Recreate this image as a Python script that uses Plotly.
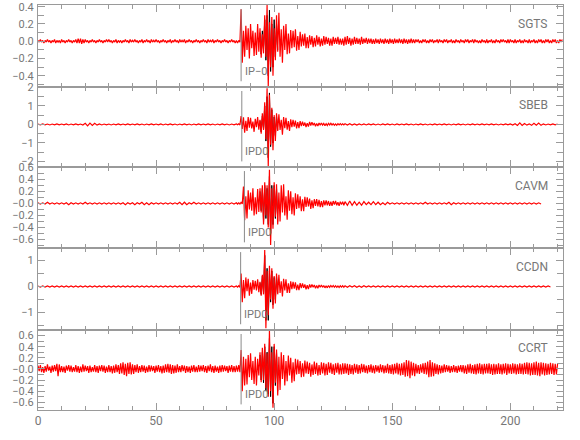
import numpy as np
import plotly.graph_objects as go

# ---------------- data (amplitudes in hundredths of the panel unit) ----------------
stations = ["SGTS", "SBEB", "CAVM", "CCDN", "CCRT"]
phase_labels = ["IP\u22120", "IPD0", "IPD0", "IPD0", "IPD0"]
phase_times = [86.0, 86.3, 87.4, 85.8, 86.0]

x_tick_vals = [0, 50, 100, 150, 200]
x_tick_text = ["0", "50", "100", "150", "200"]

y_tick_vals = [
    [0.4, 0.2, 0.0, -0.2, -0.4],
    [2, 1, 0, -1, -2],
    [0.6, 0.4, 0.2, 0.0, -0.2, -0.4, -0.6],
    [1, 0, -1],
    [0.6, 0.4, 0.2, 0.0, -0.2, -0.4, -0.6],
]
y_tick_text = [
    ["0.4", "0.2", "0.0", "\u22120.2", "\u22120.4"],
    ["2", "1", "0", "\u22121", "\u22122"],
    ["0.6", "0.4", "0.2", "\u22120.0", "\u22120.2", "\u22120.4", "\u22120.6"],
    ["1", "0", "\u22121"],
    ["0.6", "0.4", "0.2", "\u22120.0", "\u22120.2", "\u22120.4", "\u22120.6"],
]

# sample spacing (s) of the pre-event and coda lists; event list is 0.5 s from 84 s
pre_step = [0.5, 1.0, 1.0, 1.0, 0.5]
coda_step = [0.5, 1.0, 1.0, 1.0, 0.5]

sgts_pre = [1,-1,2,-1,1,-2,1,-1,2,-1, 1,-2,1,-1,2,-2,1,-1,1,-2, 2,-1,1,-2,1,-1,2,-1,1,-2,
            1,-1,2,-2,3,-2,3,-3,2,-2, 2,-1,1,-2,1,-1,2,-1,1,-2, 1,-1,2,-1,1,-2,1,-1,2,-1,
            2,-1,1,-2,1,-1,2,-2,1,-1, 1,-2,1,-1,2,-1,1,-2,2,-1, 1,-1,2,-1,1,-2,1,-1,2,-2,
            1,-1,2,-1,1,-2,2,-1,1,-1, 2,-1,1,-2,1,-1,2,-1,1,-2, 1,-1,2,-2,1,-1,2,-1,1,-2,
            2,-1,1,-1,2,-2,1,-1,2,-1, 1,-2,1,-1,2,-1,1,-2,1,-1, 2,-1,1,-2,2,-1,1,-1,2,-2,
            1,-1,2,-1,1,-2,1,-1,2,-1, 1,-2,1,-1,2,-1,1,-2]
sgts_ev = [1,-2,1,-1, 37,-25,12,-18, 18,-10,15,-20, 20,-8,12,-17, 10,-16,20,-12, 15,-19,8,-14,
           30,-18,42,-53, 22,-30,28,-40, 15,-22,30,-12, 33,-18,14,-25, 18,-10,20,-15, 9,-14,13,-8,
           12,-7,14,-11, 6,-10,11,-6, 8,-5,9,-8, 5,-8,7,-4, 6,-7,4,-6, 7,-4,5,-6,
           3,-5,6,-4, 5,-3,4,-5, 3,-5,5,-3, 4,-3,5,-4, 3,-4,3,-5]
sgts_coda = [5,-4,6,-3,4,-5,3,-4,5,-3, 4,-3,3,-4,5,-3,3,-2,4,-3, 3,-2,3,-3,2,-3,3,-2,2,-3,
             3,-2,2,-3,3,-2,2,-3,3,-2, 2,-3,3,-2,2,-2,3,-2,2,-3, 3,-2,2,-3,2,-2,3,-2,2,-2,
             2,-1,2,-2,1,-2,2,-1,2,-2, 1,-2,2,-1,2,-2,1,-1,2,-2, 2,-1,1,-2,2,-1,2,-2,1,-1,
             2,-2,1,-2,2,-1,1,-2,2,-1, 1,-2,2,-1,2,-2,1,-1,2,-2, 2,-1,1,-2,1,-2,2,-1,1,-2,
             2,-2,1,-1,2,-2,1,-2,2,-1, 1,-2,2,-1,2,-1,1,-2,2,-2, 2,-1,1,-2,2,-2,1,-1,2,-2,
             1,-2,2,-1,1,-2,2,-2,1,-1, 2,-2,1,-2,2,-1,2,-2,1,-2, 2,-1,2,-2,1,-2,2,-1,2,-2,
             1,-2,2,-1,2]

sbeb_pre = [2,-2,3,-2,2,-3,2,-2,3,-2, 2,-2,3,-3,2,-2,3,-2,2,-3, 6,-8,7,-5,6,-4,3,-3,2,-2,
            2,-3,2,-2,3,-2,2,-2,3,-2, 2,-2,3,-2,2,-3,2,-2,3,-2, 2,-2,3,-3,2,-2,3,-2,2,-3,
            2,-2,3,-2,2,-3,2,-2,3,-2, 2,-2,3,-2,2,-3,2,-2,3,-2, 2,-3,2,-2]
sbeb_ev = [3,-2,3,-3, 45,-25,38,-45, 20,-35,40,-18, 35,-22,15,-40, 30,-15,40,-28, 25,-50,60,-30,
           120,-80,195,-230, 160,-110,90,-140, 50,-90,60,-35, 55,-30,25,-55, 40,-20,35,-28, 18,-35,28,-15,
           25,-12,20,-22, 12,-20,18,-9, 15,-8,10,-14, 7,-12,13,-6, 12,-5,8,-10, 5,-9,8,-4,
           8,-4,5,-7, 4,-6,6,-3, 6,-3,4,-5, 3,-5,4,-3, 4,-3,3,-3]
sbeb_coda = [4,-3,4,-3,3,-4,3,-3,3,-3, 3,-2,3,-3,2,-3,3,-2,3,-2, 2,-3,3,-2,2,-2,3,-2,2,-3,
             2,-2,3,-2,2,-3,2,-2,3,-2, 2,-2,3,-2,2,-3,2,-2,3,-2, 2,-3,2,-2,3,-2,2,-2,3,-2,
             2,-2,3,-2,2,-3,2,-2,3,-2, 3,-3,4,-6,8,-6,5,-4,3,-5, 6,-4,7,-5,3,-3,2,-2,3,-2, 2]

cavm_pre = [1,-1,1,-1,2,-1,1,-1,1,-1, 1,-1,1,-2,1,-1,1,-1,1,-1, 2,-1,1,-1,1,-1,1,-1,1,-1,
            1,-1,1,-1,1,-1,1,-2,1,-1, 1,-2,1,-1,2,-2,1,-2,1,-1, 1,-1,1,-1,1,-1,1,-1,1,-1,
            2,-2,2,-2,1,-1,2,-1,1,-1, 1,-1,1,-1,1,-1,1,-1,1,-1, 1,-1,1,-1]
cavm_ev = [1,-1,1,-1, 2,-1,28,-28, 12,-25,22,-10, 18,-12,25,-20, 10,-18,24,-14, 25,-15,30,-35,
           35,-20,30,-40, 56,-69,25,-42, 35,-22,32,-35, 18,-30,30,-15, 32,-20,12,-27, 22,-12,20,-18,
           10,-20,17,-9, 15,-8,12,-13, 7,-13,11,-6, 10,-5,8,-9, 5,-8,7,-4, 7,-5,6,-6,
           4,-6,5,-3, 5,-3,4,-4, 3,-4,4,-2, 4,-3,2,-4, 3,-2,3,-3]
cavm_coda = [3,-3,4,-3,3,-3,2,-3,3,-2, 2,-2,3,-2,2,-2,1,-2,2,-1, 1,-1,1,-1,1,-1,1,-1,1,-1,
             1,-1,1,-1,2,-1,1,-1,1,-1, 1,-1,1,-1,2,-2,1,-1,1,-1, 1,-1,1,-1,1,-1,1,-1,1,-1,
             1,-1,1,-1,1,-1,1,-1,1,-1, 1,-1,1,-1,1,-1,1,-1,1,-1, 1,-1,1,-1]

ccdn_pre = [2,-2,2,-2,2,-2,2,-2,2,-2, 2,-2,2,-2,2,-2,2,-2,2,-2, 2,-2,2,-2,2,-2,2,-2,2,-2,
            2,-2,2,-2,2,-2,2,-2,2,-2, 2,-2,2,-2,2,-2,2,-2,2,-2, 2,-2,2,-2,2,-2,2,-2,2,-2,
            2,-2,2,-2,2,-2,2,-2,2,-2, 2,-2,2,-2,2,-2,2,-2,2,-2, 2,-2,2,-2]
ccdn_ev = [2,-2,3,-3, 50,-60,25,-45, 35,-18,30,-35, 15,-28,25,-12, 22,-15,28,-22, 18,-35,45,-30,
           140,-160,60,-110, 80,-50,70,-85, 40,-65,50,-30, 45,-25,20,-38, 30,-15,28,-25, 12,-25,20,-10,
           18,-8,16,-14, 7,-14,13,-6, 12,-5,8,-11, 5,-10,8,-4, 8,-3,6,-7, 4,-7,6,-3,
           6,-3,4,-5, 3,-5,4,-3, 4,-2,4,-3, 3,-3,2,-4, 3,-2,3,-3]
ccdn_coda = [3,-3,3,-2,3,-3,2,-3,3,-2, 2,-2,2,-2,2,-2,2,-2,2,-2, 2,-2,2,-2,2,-2,2,-2,2,-2,
             2,-2,2,-2,2,-2,2,-2,2,-2, 2,-2,2,-2,2,-2,2,-2,2,-2, 2,-2,2,-2,2,-2,2,-2,2,-2,
             2,-2,2,-2,2,-2,2,-2,2,-2, 2,-2,2,-2,2,-2,2,-2,2,-2, 2,-2,2,-2,2,-2,2,-2]

ccrt_pre = [6,-4,7,-6,3,-7,5,-5,8,-3, 4,-7,6,-5,7,-4,9,-13,8,-6, 5,-6,4,-7,6,-3,7,-5,6,-6,
            3,-5,7,-6,5,-7,4,-6,8,-5, 6,-4,5,-7,6,-6,3,-5,7,-6, 5,-7,6,-4,7,-5,6,-7,4,-6,
            7,-6,5,-8,6,-7,8,-6,7,-9, 10,-8,12,-11,9,-13,11,-9,12,-10, 8,-9,7,-6,8,-7,5,-6,7,-5,
            6,-7,4,-6,7,-5,6,-4,5,-7, 6,-5,7,-6,5,-8,6,-7,8,-6, 9,-7,8,-9,7,-8,6,-7,8,-6,
            5,-6,7,-4,6,-7,5,-6,4,-7, 6,-5,7,-6,4,-6,7,-5,6,-4, 7,-6,5,-7,6,-4,8,-6,5,-7,
            6,-5,4,-7,6,-6,7,-5,6,-4, 5,-7,6,-5,7,-6,5,-6]
ccrt_ev = [6,-5,7,-6, 34,-40,22,-30, 18,-28,25,-15, 28,-20,14,-27, 22,-30,18,-12, 30,-24,38,-20,
           45,-35,28,-50, 68,-40,30,-70, 45,-25,35,-48, 22,-38,30,-18, 25,-30,14,-22, 24,-12,20,-25,
           12,-22,18,-10, 17,-9,14,-15, 10,-14,15,-8, 13,-9,11,-14, 8,-11,13,-9, 11,-12,7,-11,
           12,-8,11,-12, 9,-11,12,-7, 11,-9,8,-11, 10,-7,11,-10, 8,-10,10,-9]
ccrt_coda = [10,-8,9,-11,8,-9,7,-10,9,-7, 8,-9,7,-8,9,-6,8,-7,6,-8, 7,-6,8,-7,6,-8,7,-5,6,-7,
             8,-6,7,-8,6,-7,9,-8,7,-9, 8,-10,9,-8,11,-10,9,-12,10,-11, 12,-14,16,-13,15,-17,13,-12,11,-13,
             9,-8,7,-9,8,-7,10,-9,11,-10, 13,-15,16,-14,12,-13,10,-9,8,-10, 7,-8,6,-7,8,-6,7,-5,6,-7,
             5,-6,7,-6,5,-7,6,-5,7,-6, 7,-8,6,-9,8,-7,9,-8,7,-9, 8,-10,9,-8,10,-9,8,-10,9,-8,
             9,-8,10,-9,8,-11,9,-10,8,-9, 10,-9,8,-10,9,-8,10,-11,9,-8, 8,-9,10,-8,9,-10,8,-9,10,-9,
             9,-10,11,-9,12,-10,11,-12,10,-11, 12,-11,13,-12,11,-13,12,-10,11,-12, 10,-11,9,-10,11,-9,10,-11,9,-10,
             9]

# black (observed) trace around the main arrivals, 0.5 s samples starting 94 s
sgts_black = [10,-15,12,-10,25,-22,30,-40,36,-35,20,-30,25,-18,20,-10]
sbeb_black = [20,-40,45,-25,100,-90,150,-180,170,-120,80,-100,40,-60,45,-30]
cavm_black = [20,-12,25,-30,30,-25,25,-35,45,-50,30,-35,30,-25,25,-30]
ccdn_black = [15,-30,40,-25,120,-130,70,-130,60,-60,60,-70,35,-50,40,-25]
ccrt_black = [25,-20,30,-25,40,-40,30,-45,55,-50,40,-62,40,-30,30,-40]

red_data = [
    (sgts_pre, sgts_ev, sgts_coda),
    (sbeb_pre, sbeb_ev, sbeb_coda),
    (cavm_pre, cavm_ev, cavm_coda),
    (ccdn_pre, ccdn_ev, ccdn_coda),
    (ccrt_pre, ccrt_ev, ccrt_coda),
]
black_data = [sgts_black, sbeb_black, cavm_black, ccdn_black, ccrt_black]

# ---------------- layout settings ----------------
y_ranges = [[-0.53, 0.42], [-2.3, 2.02], [-0.74, 0.605], [-1.67, 1.48], [-0.74, 0.70]]
y_minor = [0.1, 0.5, 0.1, 0.5, 0.1]

W, H = 580, 440
L, R, T, B = 38, 17, 5, 30
plot_h = H - T - B
bounds_px = [5, 87, 167, 248, 330, 410]
domains = []
for i in range(5):
    top = (H - B - bounds_px[i]) / plot_h
    bot = (H - B - bounds_px[i + 1]) / plot_h
    domains.append([max(0.0, bot), min(1.0, top)])

AX = "#9a9a9a"
TXT = "#777777"
FONT = "Roboto, Liberation Sans, sans-serif"
FS = 11

fig = go.Figure()


def series(pre, ev, coda, ps, cs):
    t = np.concatenate([
        np.arange(len(pre)) * ps,
        84.0 + 0.5 * np.arange(len(ev)),
        130.0 + np.arange(len(coda)) * cs,
    ])
    v = np.array(pre + ev + coda, dtype=float) / 100.0
    return t, v


for i in range(5):
    xa = "x" if i == 0 else f"x{i+1}"
    ya = "y" if i == 0 else f"y{i+1}"
    bt = 94.0 + 0.5 * np.arange(len(black_data[i]))
    bv = np.array(black_data[i], dtype=float) / 100.0
    fig.add_trace(go.Scatter(x=bt, y=bv, mode="lines", line=dict(color="black", width=1),
                             xaxis=xa, yaxis=ya, showlegend=False, hoverinfo="skip"))
    t, v = series(*red_data[i], pre_step[i], coda_step[i])
    fig.add_trace(go.Scatter(x=t, y=v, mode="lines", line=dict(color="rgb(255,0,0)", width=1.2),
                             xaxis=xa, yaxis=ya, showlegend=False, hoverinfo="skip"))

layout = dict(
    width=W, height=H,
    margin=dict(l=L, r=R, t=T, b=B, pad=0, autoexpand=False),
    paper_bgcolor="white", plot_bgcolor="white",
    showlegend=False, hovermode=False,
    font=dict(family=FONT, size=FS, color=TXT),
)

for i in range(5):
    xk = "xaxis" if i == 0 else f"xaxis{i+1}"
    yk = "yaxis" if i == 0 else f"yaxis{i+1}"
    ya = "y" if i == 0 else f"y{i+1}"
    xa = "x" if i == 0 else f"x{i+1}"
    layout[xk] = dict(
        domain=[0, 1], anchor=ya, range=[0, 222.3], automargin=False,
        showgrid=False, zeroline=False,
        showline=True, linecolor=AX, linewidth=1, mirror="ticks",
        ticks="inside", ticklen=7, tickcolor=AX, tickwidth=1,
        tickmode="array", tickvals=x_tick_vals, ticktext=x_tick_text,
        showticklabels=(i == 4),
        tickfont=dict(family=FONT, size=FS + 1, color=TXT),
        minor=dict(ticks="inside", ticklen=4, tickcolor=AX, tickmode="linear", tick0=0, dtick=10,
                   showgrid=False),
    )
    if i > 0:
        layout[xk]["matches"] = "x"
    layout[yk] = dict(
        domain=domains[i], anchor=xa, range=y_ranges[i], automargin=False,
        showgrid=False, zeroline=False,
        showline=True, linecolor=AX, linewidth=1, mirror="ticks",
        ticks="inside", ticklen=7, tickcolor=AX, tickwidth=1,
        tickmode="array", tickvals=y_tick_vals[i], ticktext=y_tick_text[i],
        tickfont=dict(family=FONT, size=FS, color=TXT),
        ticklabelstandoff=1,
        minor=dict(ticks="inside", ticklen=6, tickcolor=AX, tickmode="linear", tick0=0,
                   dtick=y_minor[i], showgrid=False),
    )

fig.update_layout(**layout)

for i in range(5):
    xa = "x" if i == 0 else f"x{i+1}"
    ya = "y" if i == 0 else f"y{i+1}"
    fig.add_shape(type="line", xref=xa, yref=f"{ya} domain",
                  x0=phase_times[i], x1=phase_times[i], y0=0.07, y1=0.95,
                  line=dict(color="#8a8a8a", width=1))
    fig.add_annotation(xref=xa, yref=f"{ya} domain", x=phase_times[i] + 0.6, y=0.19,
                       text=phase_labels[i], showarrow=False, xanchor="left", yanchor="middle",
                       font=dict(family=FONT, size=FS, color=TXT))
    fig.add_annotation(xref="paper", yref=f"{ya} domain", x=(550 - L) / (W - L - R), y=0.77,
                       text=stations[i], showarrow=False, xanchor="right", yanchor="middle",
                       font=dict(family=FONT, size=FS + 1, color=TXT))

# remove the default page margin so the figure sits at the window's top-left corner
fig.write_html("out.html", config={"displayModeBar": False, "staticPlot": True},
               post_script="document.body.style.margin='0px';")
